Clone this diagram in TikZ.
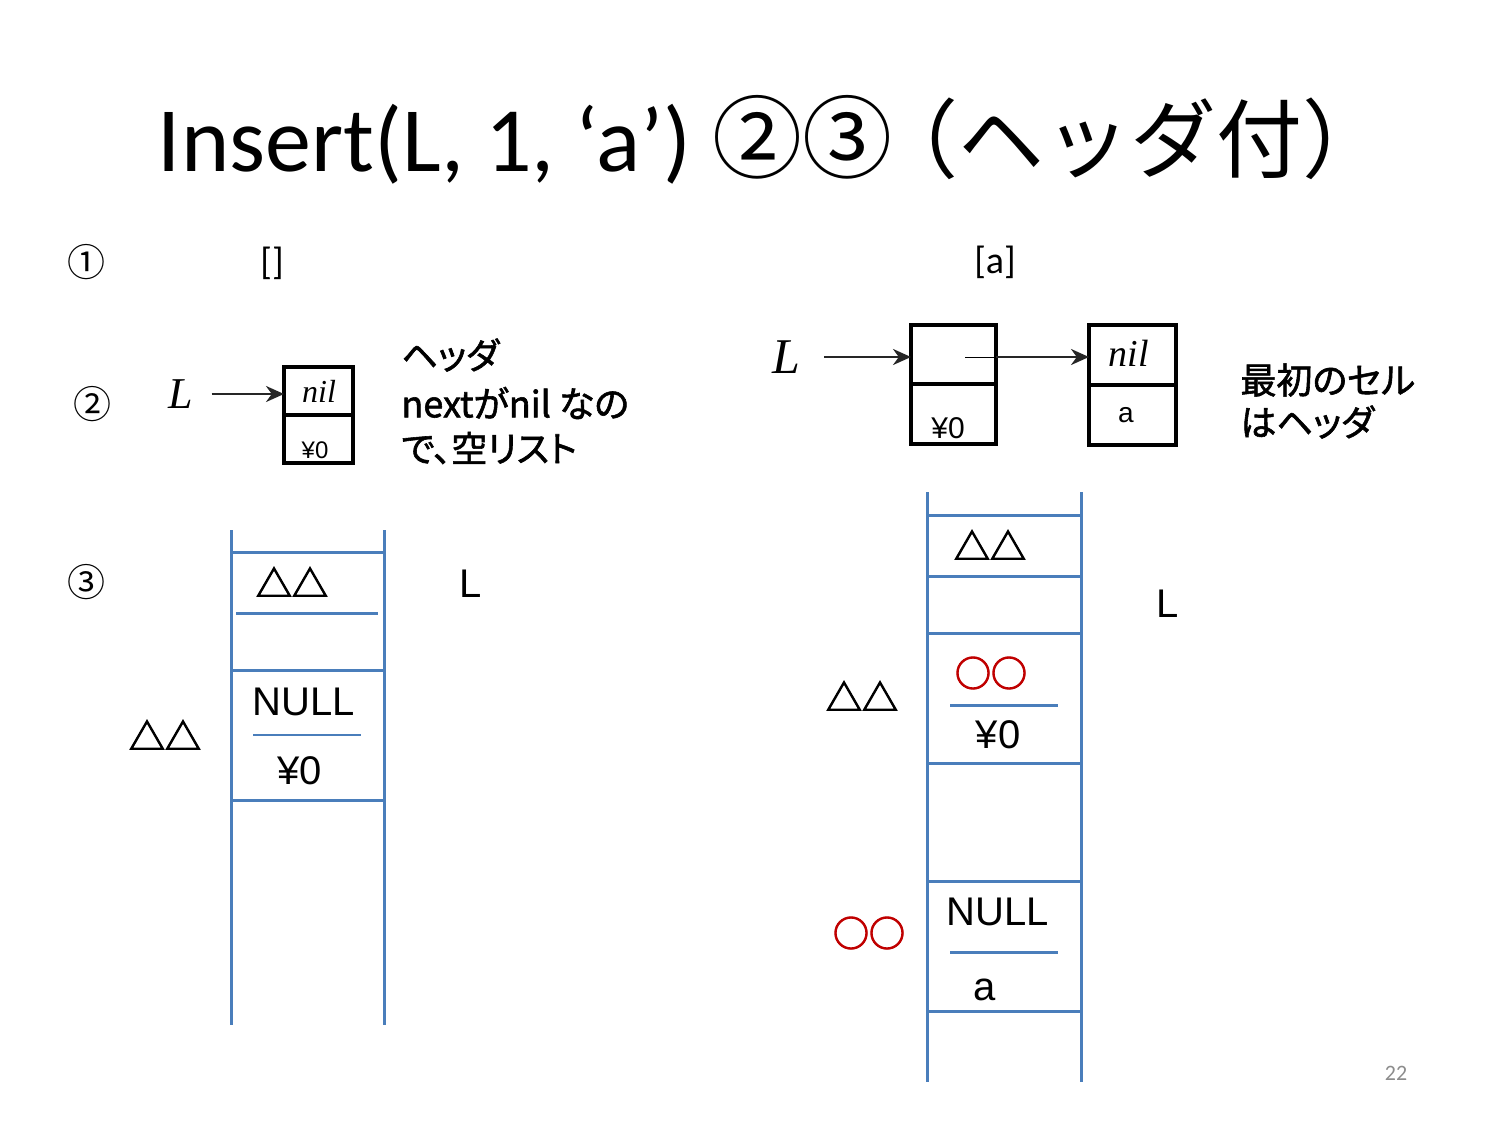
\documentclass[tikz,border=0pt]{standalone}
\usepackage{fontspec}
\setmainfont{Carlito}
\newfontfamily\jp{Noto Sans CJK JP}
\newfontfamily\jpfb[FakeBold=3]{Noto Sans CJK JP}
\newfontfamily\jpp[RawFeature=+palt,FakeBold=1.6]{Noto Sans CJK JP}
\newfontfamily\ars{Liberation Sans}
\newfontfamily\tms{Liberation Serif}
\usetikzlibrary{arrows.meta}
\definecolor{stackblue}{HTML}{4A7EBB}
\definecolor{circred}{HTML}{C00000}
\definecolor{pagegray}{HTML}{8C8C8C}
\newcommand{\fs}[1]{\fontsize{#1pt}{1.2\dimexpr#1pt\relax}\selectfont}
\begin{document}
\begin{tikzpicture}[x=0.5pt,y=-0.5pt,
  stackline/.style={draw=stackblue,line width=1.5pt},
  cellline/.style={draw=black,line width=1.6pt},
  ptr/.style={draw=black!85,line width=1.4pt,-{Stealth[length=9pt,width=8pt]}},
  txt/.style={inner sep=0pt,anchor=center},
  tri/.style={txt,font=\jpfb\fs{18}},
  circ/.style={txt,font=\jpfb\fs{18},text=circred},
  arl/.style={txt,font=\ars\fs{20}},
  jtext/.style={inner sep=0pt,anchor=west,font=\jpp\fs{18}}]
\fill[white] (0,0) rectangle (1500,1125);
\useasboundingbox (0,0) rectangle (1500,1125);

% title
\node[txt] (title) at (773,140) {\fs{46}Insert(L, 1, ‘a’) {\jp\fs{45}②③}{\jp\fs{43}\kern-10pt（ヘッダ付）}};

% markers
\node[txt,font=\jp\fs{19}] (m1) at (87,262) {①};
\node[txt,font=\jp\fs{19}] (m2) at (92,404) {②};
\node[txt,font=\jp\fs{19}] (m3) at (87,582) {③};
\node[txt,font=\fs{19}] (empty) at (272,263) {[]};
\node[txt,font=\fs{19}] (lista) at (995,262) {[a]};

% left header cell
\draw[cellline] (284,367) rectangle (353,463);
\draw[cellline] (284,415) -- (353,415);
\coordinate (c1w) at (284,394);
\node[txt,font=\tms\itshape\fs{22}] (L1) at (181,394) {L};
\node[txt,font=\tms\itshape\fs{16}] (nil1) at (319,391) {nil};
\node[txt,font=\ars\fs{12}] (yen1) at (315,450) {¥0};
\draw[ptr] (L1.east)+(18,0) -- (c1w);
\node[jtext] (t1) at (401,355) {ヘッダ};
\node[jtext] (t2) at (401,403) {nextがnil なの};
\node[jtext] (t3) at (401,448) {で、空リスト};

% right cells
\draw[cellline] (911,325) rectangle (996,444);
\draw[cellline] (911,384) -- (996,384);
\draw[cellline] (1089,325) rectangle (1176,445);
\draw[cellline] (1089,385) -- (1176,385);
\coordinate (c2w) at (911,357);
\coordinate (c2mid) at (965,357);
\coordinate (c3w) at (1089,357);
\node[txt,font=\tms\itshape\fs{25}] (L2) at (786,357) {L};
\node[txt,font=\ars\fs{15}] (yen2) at (948,428) {¥0};
\node[txt,font=\tms\itshape\fs{19}] (nil2) at (1129,353) {nil};
\node[txt,font=\ars\fs{14}] (a2) at (1126,415) {a};
\draw[ptr] (L2.east)+(24,0) -- (c2w);
\draw[black,line width=0.5pt] (c2mid) -- (1000,357);
\draw[ptr] (996,357) -- (c3w);
\node[jtext] (t4) at (1240,380) {最初のセル};
\node[jtext] (t5) at (1240,422) {はヘッダ};

% left stack
\draw[stackline] (231,530) -- (231,1025);
\draw[stackline] (384,530) -- (384,1025);
\draw[stackline] (231,552) -- (384,552);
\draw[stackline] (236,613) -- (378,613);
\draw[stackline] (231,670) -- (384,670);
\draw[stackline,line width=1pt] (253,735) -- (361,735);
\draw[stackline] (231,800) -- (384,800);
\node[tri] (s1a) at (292,582) {△△};
\node[arl] (s1L) at (471,584) {L};
\node[arl] (s1n) at (304,702) {NULL};
\node[arl] (s1y) at (300,771) {¥0};
\node[tri] (s1b) at (165,735) {△△};

% right stack
\draw[stackline] (927,492) -- (927,1082);
\draw[stackline] (1081,492) -- (1081,1082);
\draw[stackline] (927,515) -- (1081,515);
\draw[stackline] (927,576) -- (1083,576);
\draw[stackline] (927,633) -- (1083,633);
\draw[stackline] (950,705) -- (1058,705);
\draw[stackline] (927,763) -- (1081,763);
\draw[stackline] (927,881) -- (1081,881);
\draw[stackline] (950,952) -- (1058,952);
\draw[stackline] (927,1011) -- (1081,1011);
\node[tri] (s2a) at (990,545) {△△};
\node[arl] (s2L) at (1168,604) {L};
\node[circ] (s2c) at (991,673) {○○};
\node[arl] (s2y) at (998,735) {¥0};
\node[tri] (s2b) at (862,696) {△△};
\node[circ] (s2d) at (869,933) {○○};
\node[arl] (s2n) at (998,912) {NULL};
\node[arl] (s2a2) at (985,990) {a};

% page number
\node[txt,font=\fs{11},text=pagegray] (pg) at (1396,1073) {22};
\end{tikzpicture}
\end{document}
